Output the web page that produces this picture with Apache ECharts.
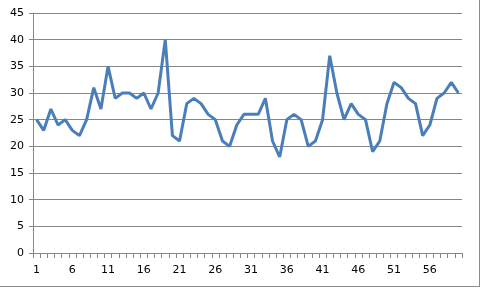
<!DOCTYPE html>
<html><head><meta charset="utf-8">
<script src="https://cdn.jsdelivr.net/npm/echarts@6/dist/echarts.min.js"></script>
<style>html,body{margin:0;padding:0;background:#fff}#c{width:481px;height:289px}</style>
</head><body><div id="c"></div>
<script>
const categories = [];
for (let i = 1; i <= 60; i++) categories.push(String(i));
const values = [25,23,27,24,25,23,22,25,31,27,35,29,30,30,29,30,27,30,40,22,
                21,28,29,28,26,25,21,20,24,26,26,26,29,21,18,25,26,25,20,21,
                25,37,30,25,28,26,25,19,21,28,32,31,29,28,22,24,29,30,32,30];
const yMin = 0, yMax = 45, yStep = 5;

const chart = echarts.init(document.getElementById('c'), null, {renderer:'canvas'});
const axisGray = '#868686';
chart.setOption({
  animation: false,
  grid: {left: 33, right: 19, top: 13, bottom: 36, containLabel: false},
  xAxis: {
    type: 'category', data: categories, boundaryGap: true,
    axisLine: {show: true, lineStyle: {color: axisGray, width: 1}},
    axisTick: {show: true, interval: 0, length: 5, lineStyle: {color: axisGray}},
    axisLabel: {interval: 4, color: '#000', fontFamily: 'DejaVu Sans', fontSize: 11, margin: 12}
  },
  yAxis: {
    type: 'value', min: yMin, max: yMax, interval: yStep,
    axisLine: {show: true, lineStyle: {color: axisGray, width: 1}},
    axisTick: {show: true, length: 4, lineStyle: {color: axisGray}},
    axisLabel: {color: '#000', fontFamily: 'DejaVu Sans', fontSize: 11, margin: 9},
    splitLine: {show: true, lineStyle: {color: axisGray, width: 1}}
  },
  series: [{
    type: 'line', data: values, showSymbol: false, smooth: false,
    lineStyle: {color: '#4a7ebb', width: 3}, itemStyle: {color: '#4a7ebb'}
  }],
  graphic: [
    {type: 'line', shape: {x1: 479.5, y1: 0, x2: 479.5, y2: 287}, style: {stroke: '#8c8c8c', lineWidth: 1}},
    {type: 'line', shape: {x1: 0, y1: 286.5, x2: 480, y2: 286.5}, style: {stroke: '#8c8c8c', lineWidth: 1}}
  ]
});
</script></body></html>
